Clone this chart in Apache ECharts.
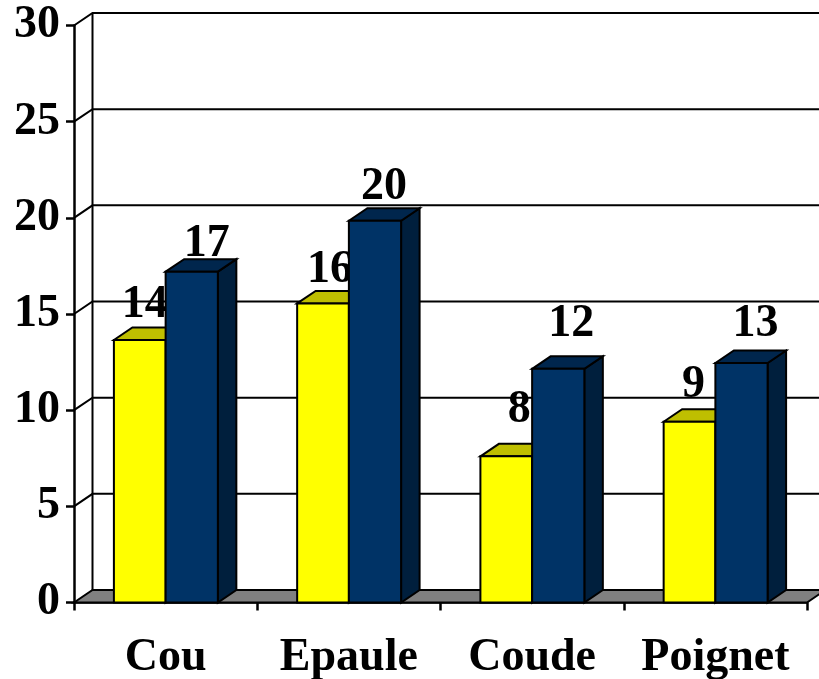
<!DOCTYPE html>
<html>
<head>
<meta charset="utf-8">
<style>
  html, body { margin: 0; padding: 0; background: #fff; }
  #chart { width: 819px; height: 679px; }
</style>
<script src="https://cdn.jsdelivr.net/npm/echarts@6/dist/echarts.min.js"></script>
</head>
<body>
<div id="chart"></div>
<script>
// valeurs
var categories = ['Cou', 'Epaule', 'Coude', 'Poignet'];
var yellowValues = [13.65, 15.55, 7.6, 9.4];
var blueValues = [17.2, 19.85, 12.15, 12.45];
var yellowLabels = ['14', '16', '8', '9'];
var blueLabels = ['17', '20', '12', '13'];
var yTicks = [5, 10, 15, 20, 25, 30];

// profondeur de la perspective, en pixels
var DEPTH_X = 18.5;
var DEPTH_Y = 12.5;
var FONT = '"Liberation Serif", serif';

// decalage de chaque etiquette par rapport au centre du haut de la barre
var yellowShift = [[5, -35], [7, -33], [13, -46], [4, -37]];
var blueShift = [[15, -28], [9, -34], [13, -45], [14, -39]];

function poly(points, fill, width) {
  return {
    type: 'polygon',
    shape: { points: points },
    style: { fill: fill, stroke: '#000', lineWidth: width || 2, lineJoin: 'miter' }
  };
}

// barre 3D : face avant, dessus, cote, puis etiquette
function barRenderer(side, colors, labels, shifts) {
  return function (params, api) {
    var i = api.value(0);
    var top = api.coord([i, api.value(1)]);
    var base = api.coord([i, 0]);
    var w = api.size([1, 0])[0] * 0.285;
    var x0 = side === 0 ? top[0] - w + 0.5 : top[0];
    var x1 = side === 0 ? top[0] : x0 + w;
    var shift = shifts[i];
    return {
      type: 'group',
      children: [
        poly([[x1, top[1]], [x1 + DEPTH_X, top[1] - DEPTH_Y], [x1 + DEPTH_X, base[1] - DEPTH_Y], [x1, base[1]]], colors[2]),
        poly([[x0, top[1]], [x0 + DEPTH_X, top[1] - DEPTH_Y], [x1 + DEPTH_X, top[1] - DEPTH_Y], [x1, top[1]]], colors[1]),
        poly([[x0, top[1]], [x1, top[1]], [x1, base[1]], [x0, base[1]]], colors[0]),
        {
          type: 'text',
          style: {
            text: labels[i],
            x: (x0 + x1) / 2 + shift[0],
            y: top[1] + shift[1],
            font: 'bold 46px ' + FONT,
            fill: '#000',
            align: 'center',
            verticalAlign: 'middle'
          }
        }
      ]
    };
  };
}

// lignes de grille : diagonale sur le mur de gauche puis mur du fond
function renderGridLine(params, api) {
  var p = api.coord([0, api.value(1)]);
  var sys = params.coordSys;
  var right = sys.x + sys.width + DEPTH_X;
  return {
    type: 'polyline',
    shape: { points: [[sys.x, p[1]], [sys.x + DEPTH_X, p[1] - DEPTH_Y], [right, p[1] - DEPTH_Y]] },
    style: { fill: 'none', stroke: '#000', lineWidth: 2 }
  };
}

// sol gris et arete verticale du mur du fond
function renderFloor(params, api) {
  var sys = params.coordSys;
  var b = api.coord([0, 0])[1];
  var t = api.coord([0, 30])[1];
  return {
    type: 'group',
    children: [
      {
        type: 'line',
        shape: { x1: sys.x + DEPTH_X, y1: t - DEPTH_Y, x2: sys.x + DEPTH_X, y2: b - DEPTH_Y },
        style: { stroke: '#000', lineWidth: 2 }
      },
      poly([[sys.x, b], [sys.x + DEPTH_X, b - DEPTH_Y], [sys.x + sys.width + DEPTH_X, b - DEPTH_Y], [sys.x + sys.width, b]], '#808080')
    ]
  };
}

function toData(values) {
  return values.map(function (v, i) { return [i, v]; });
}

var chart = echarts.init(document.getElementById('chart'));
var option = {
  animation: false,
  backgroundColor: '#fff',
  grid: { left: 74, right: 12, top: 25.5, bottom: 76.5, outerBoundsMode: 'none' },
  xAxis: {
    type: 'category',
    data: categories,
    axisLine: { lineStyle: { color: '#000', width: 2.5 } },
    axisTick: { show: true, interval: 0, length: 8, lineStyle: { color: '#000', width: 2.5 } },
    axisLabel: { interval: 0, fontFamily: FONT, fontWeight: 'bold', fontSize: 46, color: '#000', margin: 33 }
  },
  yAxis: {
    type: 'value',
    min: 0,
    max: 30,
    interval: 5,
    splitLine: { show: false },
    axisLine: { show: true, lineStyle: { color: '#000', width: 2.5 } },
    axisTick: { show: true, length: 8, lineStyle: { color: '#000', width: 2.5 } },
    axisLabel: { fontFamily: FONT, fontWeight: 'bold', fontSize: 46, color: '#000', margin: 14, padding: [4, 0, 0, 0] }
  },
  series: [
    {
      type: 'custom',
      renderItem: renderGridLine,
      encode: { x: 0, y: 1 },
      data: yTicks.map(function (t) { return [0, t]; }),
      silent: true
    },
    {
      type: 'custom',
      renderItem: renderFloor,
      encode: { x: 0, y: 1 },
      data: [[0, 0]],
      silent: true
    },
    {
      type: 'custom',
      name: 'Jaune',
      renderItem: barRenderer(0, ['#FFFF00', '#BFBF00', '#808000'], yellowLabels, yellowShift),
      encode: { x: 0, y: 1 },
      data: toData(yellowValues)
    },
    {
      type: 'custom',
      name: 'Bleu',
      renderItem: barRenderer(1, ['#003366', '#00264D', '#001F3D'], blueLabels, blueShift),
      encode: { x: 0, y: 1 },
      data: toData(blueValues)
    }
  ]
};
chart.setOption(option);
</script>
</body>
</html>
